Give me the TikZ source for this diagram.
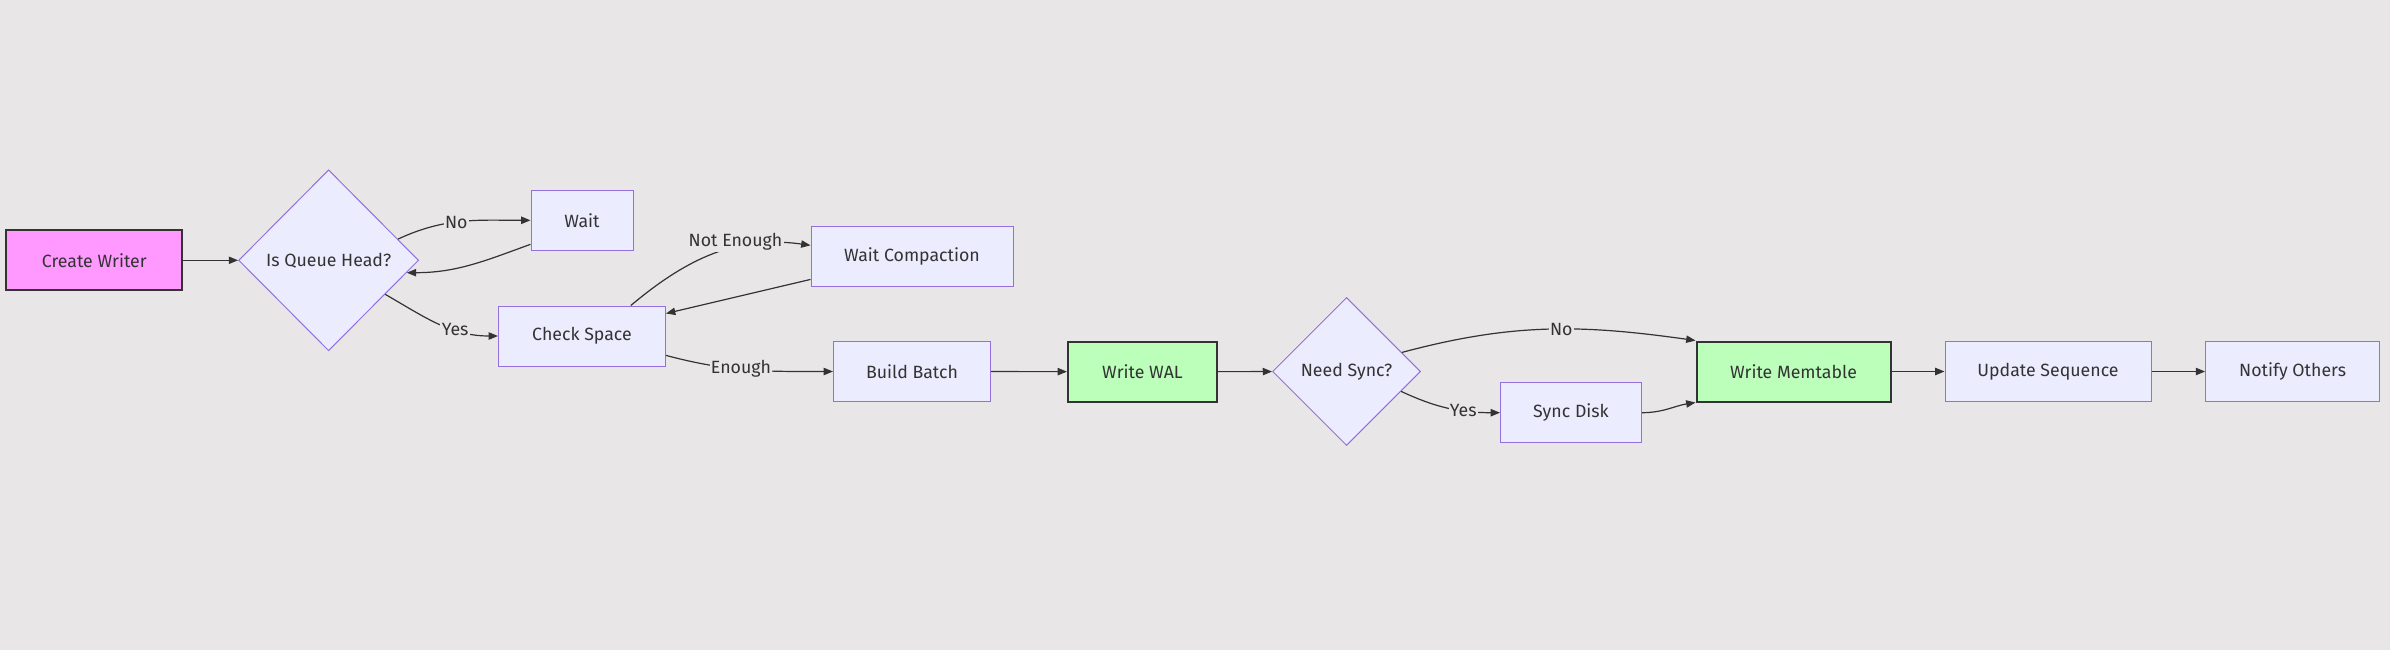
\documentclass[tikz,border=0pt]{standalone}
\usepackage{fontspec}
\setmainfont{Fira Sans}
\usetikzlibrary{shapes.geometric,arrows.meta}

\definecolor{bgc}{HTML}{E8E6E6}
\definecolor{nodefill}{HTML}{ECECFF}
\definecolor{nodeline}{HTML}{9370DB}
\definecolor{pinkfill}{HTML}{FF99FF}
\definecolor{greenfill}{HTML}{BBFFBB}
\definecolor{ink}{HTML}{333333}

\tikzset{
  box/.style={draw=nodeline, fill=nodefill, line width=0.75pt, minimum height=45pt, text=ink, font=\fontsize{13.3}{15}\selectfont},
  keybox/.style={box, draw=ink, line width=1.5pt},
  choice/.style={diamond, draw=nodeline, fill=nodefill, line width=0.75pt, inner sep=0pt, text=ink, font=\fontsize{13.3}{15}\selectfont},
  flow/.style={draw=ink, line width=0.9pt, -{Triangle[length=7pt,width=5.5pt]}},
  lbl/.style={fill=bgc, text=ink, inner sep=1pt, font=\fontsize{13.3}{15}\selectfont}
}

\begin{document}
\begin{tikzpicture}[x=0.75pt, y=-0.75pt]

\fill[bgc] (0,0) rectangle (2390,650);

\node[keybox, fill=pinkfill, minimum width=132pt] (create) at (94.3,260.3) {Create Writer};
\node[choice, minimum width=135pt, minimum height=135.75pt] (queue) at (328.6,260.3) {Is Queue Head?};
\node[box, minimum width=76.5pt] (wait) at (582,220.3) {Wait};
\node[box, minimum width=125.25pt] (check) at (582,336) {Check Space};
\node[box, minimum width=151.5pt] (waitc) at (912,256) {Wait Compaction};
\node[box, minimum width=117.75pt] (batch) at (912,371.5) {Build Batch};
\node[keybox, fill=greenfill, minimum width=111.75pt] (wal) at (1142.5,371.7) {Write WAL};
\node[choice, minimum width=111pt, minimum height=111pt] (sync) at (1346.5,371.5) {Need Sync?};
\node[box, minimum width=105.75pt] (disk) at (1571,412.7) {Sync Disk};
\node[keybox, fill=greenfill, minimum width=145.5pt] (memt) at (1793.5,371.5) {Write Memtable};
\node[box, minimum width=154.5pt] (update) at (2048,371.5) {Update Sequence};
\node[box, minimum width=130.5pt] (notify) at (2292.6,371.5) {Notify Others};

\draw[flow] (create) -- (queue);
\draw[flow] (queue.17) to[out=25,in=180] node[lbl,pos=0.45]{No} (wait.west);
\draw[flow] (wait.205) to[out=200,in=0] (queue.351);
\draw[flow] (queue.329) to[out=-30,in=180] node[lbl,pos=0.65]{Yes} (check.west);

\draw[flow] (check.32) to[out=40,in=172] node[lbl,pos=0.62,yshift=4pt]{Not Enough} (waitc.174);
\draw[flow] (waitc.193) -- (check.15);
\draw[flow] (check.-13) to[out=-15,in=180] node[lbl,pos=0.45]{Enough} (batch.west);

\draw[flow] (batch) -- (wal);
\draw[flow] (wal) -- (sync);
\draw[flow] (sync.19) to[out=15,in=172] node[lbl,pos=0.55]{No} (memt.north west);
\draw[flow] (sync.340) to[out=-25,in=180] node[lbl,pos=0.65]{Yes} (disk.west);
\draw[flow] (disk.east) to[out=0,in=189] (memt.south west);

\draw[flow] (memt) -- (update);
\draw[flow] (update) -- (notify);
\end{tikzpicture}
\end{document}
